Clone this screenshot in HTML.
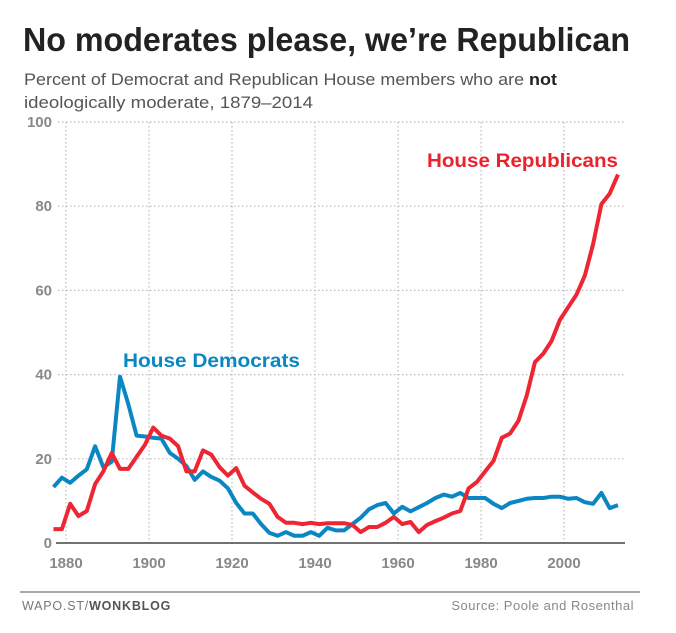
<!DOCTYPE html>
<html><head><meta charset="utf-8"><style>
html,body{margin:0;padding:0;background:#fff}
svg{display:block;font-family:"Liberation Sans",sans-serif}
</style></head><body>
<svg id="chart" width="676" height="633" viewBox="0 0 676 633">
<text x="23" y="51" font-size="33" font-weight="bold" fill="#222" textLength="607" lengthAdjust="spacingAndGlyphs">No moderates please, we’re Republican</text>
<text x="24" y="85" font-size="17" fill="#555" textLength="533" lengthAdjust="spacingAndGlyphs">Percent of Democrat and Republican House members who are <tspan font-weight="bold" fill="#222">not</tspan></text>
<text x="24" y="108" font-size="17" fill="#555" textLength="289" lengthAdjust="spacingAndGlyphs">ideologically moderate, 1879–2014</text>
<g id="grid"></g>
<g id="axes"></g>
<g id="series"></g>
<text x="427" y="167" font-size="19" font-weight="bold" fill="#e8232e" textLength="191" lengthAdjust="spacingAndGlyphs">House Republicans</text>
<text x="123" y="367" font-size="19" font-weight="bold" fill="#0a87c3" textLength="177" lengthAdjust="spacingAndGlyphs">House Democrats</text>
<line x1="20" y1="592" x2="640" y2="592" stroke="#aaa" stroke-width="2"/>
<text x="22" y="610" font-size="12.5" fill="#777" letter-spacing="0.8">WAPO.ST/<tspan font-weight="bold" fill="#555">WONKBLOG</tspan></text>
<text x="634" y="610" font-size="13" fill="#888" text-anchor="end" letter-spacing="0.5">Source: Poole and Rosenthal</text>
</svg>
<script>
const startYear = 1877;
const yearStep = 2;
const democrats = [13.3,15.5,14.3,16,17.5,23,18,19.3,39.5,33,25.5,25.3,25,24.8,21.4,20,18.3,15,17,15.7,14.8,13,9.5,7,7,4.5,2.4,1.7,2.6,1.7,1.7,2.6,1.7,3.6,3,3,4.5,6,8,9,9.5,7,8.6,7.5,8.5,9.5,10.7,11.5,11,11.9,10.7,10.7,10.7,9.3,8.3,9.5,10,10.5,10.7,10.7,11,11,10.5,10.7,9.7,9.3,11.9,8.3,9];
const republicans = [3.3,3.3,9.3,6.4,7.6,14,17,21.4,17.6,17.6,20.5,23.3,27.4,25.5,24.8,23,17,17,22,21,18,16,17.8,13.6,12,10.5,9.3,6.2,4.8,4.8,4.5,4.8,4.5,4.7,4.7,4.7,4.3,2.6,3.8,3.8,4.8,6.2,4.5,5,2.6,4.3,5.2,6,7,7.6,13,14.5,17,19.5,25,26,29,35,43,45,48,53,56,59,63.5,71,80.5,83,87.5];
const yTicks = [0,20,40,60,80,100];
const xTicks = [1880,1900,1920,1940,1960,1980,2000];

const NS = "http://www.w3.org/2000/svg";
function xs(yr){ return 66 + (yr - 1880) * 4.15; }
function ys(v){ return 543 - v * 4.21; }
function mk(tag, attrs, parent){
  const e = document.createElementNS(NS, tag);
  for (const k in attrs) e.setAttribute(k, attrs[k]);
  parent.appendChild(e); return e;
}
const grid = document.getElementById('grid');
const axes = document.getElementById('axes');
const series = document.getElementById('series');
yTicks.forEach(t => {
  if (t > 0) {
    const l = mk('line', {x1:58, x2:624, y1:ys(t), y2:ys(t), stroke:'#bbb', 'stroke-width':1.2, 'stroke-dasharray':'1.5 2.5'}, grid);
    
    
  }
  const tx = mk('text', {x:52, y:ys(t)+5, 'font-size':15, 'font-weight':'bold', fill:'#888', 'text-anchor':'end'}, axes);
  tx.textContent = t;
  
  
});
xTicks.forEach(t => {
  const l = mk('line', {x1:xs(t), x2:xs(t), y1:ys(100), y2:543, stroke:'#bbb', 'stroke-width':1.2, 'stroke-dasharray':'1.5 2.5'}, grid);
  
  
  const tx = mk('text', {x:xs(t), y:568, 'font-size':15, 'font-weight':'bold', fill:'#888', 'text-anchor':'middle'}, axes);
  tx.textContent = t;
  
  
});
const ax = mk('line', {x1:56, x2:625, y1:543, y2:543, stroke:'#444', 'stroke-width':1.5}, axes);


function pts(arr){ return arr.map((v,i) => xs(startYear + i*yearStep).toFixed(1) + ',' + ys(v).toFixed(1)).join(' '); }
const dl = mk('polyline', {points:pts(democrats), fill:'none', stroke:'#0a87c3', 'stroke-width':4, 'stroke-linejoin':'round'}, series);


const rl = mk('polyline', {points:pts(republicans), fill:'none', stroke:'#ee2533', 'stroke-width':4, 'stroke-linejoin':'round'}, series);


</script>
</body></html>
